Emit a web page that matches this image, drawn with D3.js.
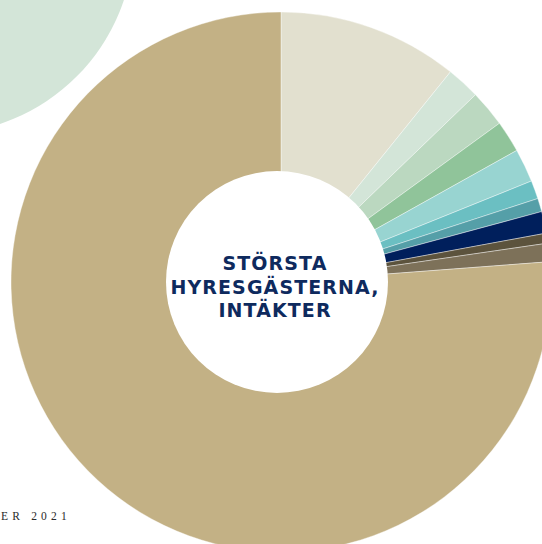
<!DOCTYPE html>
<html>
<head>
<meta charset="utf-8">
<script src="https://cdn.jsdelivr.net/npm/d3@7"></script>
<style>
  html, body { margin: 0; padding: 0; background: #fff; }
  svg { display: block; }
</style>
</head>
<body>
<div id="chart"></div>
<script>
// tenants share of income (percent), clockwise from 12 o'clock
const tenants = ["H1", "H2", "H3", "H4", "H5", "H6", "H7", "H8", "H9", "H10", "Övriga"]
const shares = [10.8, 2.0, 2.2, 1.9, 2.0, 1.1, 0.8, 1.3, 0.6, 1.1, 76.2]
const colors = ["#e2e0cf", "#d3e5d8", "#bbd8c0", "#90c49a", "#98d4d1", "#6bbfc2",
                "#559fa8", "#001f5c", "#5c533d", "#7d7159", "#c3b185"]
const titleLines = ["STÖRSTA", "HYRESGÄSTERNA,", "INTÄKTER"]
const footer = "ER 2021"

const width = 542
const height = 544

const svg = d3.select("#chart")
  .append("svg")
  .attr("width", width)
  .attr("height", height)

// decorative pale circle in the top-left corner
svg.append("circle")
  .attr("cx", -62)
  .attr("cy", -62)
  .attr("r", 196)
  .style("fill", "#d3e5d8")

const data = tenants.map((t, i) => ({name: t, value: shares[i], color: colors[i]}))

const pie = d3.pie()
  .sort(null)
  .value(d => d.value)

const arc = d3.arc()
  .innerRadius(0)
  .outerRadius(270)

const g = svg.append("g")
  .attr("transform", "translate(281,282)")

g.selectAll("path")
  .data(pie(data))
  .enter()
  .append("path")
    .attr("d", arc)
    .style("fill", d => d.data.color)
    .style("stroke", "#fff")
    .style("stroke-width", 0.4)

// white hole, sitting a little left of the pie centre like the original
g.append("circle")
  .attr("cx", -4)
  .attr("cy", 0)
  .attr("r", 111)
  .style("fill", "#fff")

// title in the hole
const title = g.append("text")
  .attr("text-anchor", "middle")
  .style("font-family", "'DejaVu Sans', sans-serif")
  .style("font-weight", 700)
  .style("font-size", "19px")
  .style("letter-spacing", "1.1px")
  .style("fill", "#0e2a5e")

title.selectAll("tspan")
  .data(titleLines)
  .enter()
  .append("tspan")
    .attr("x", -6)
    .attr("y", (d, i) => -12 + i * 23.5)
    .text(d => d)

svg.append("text")
  .attr("x", 1)
  .attr("y", 520)
  .style("font-family", "'Liberation Serif', serif")
  .style("font-size", "11.5px")
  .style("letter-spacing", "4.2px")
  .style("fill", "#2a2a2a")
  .text(footer)
</script>
</body>
</html>
